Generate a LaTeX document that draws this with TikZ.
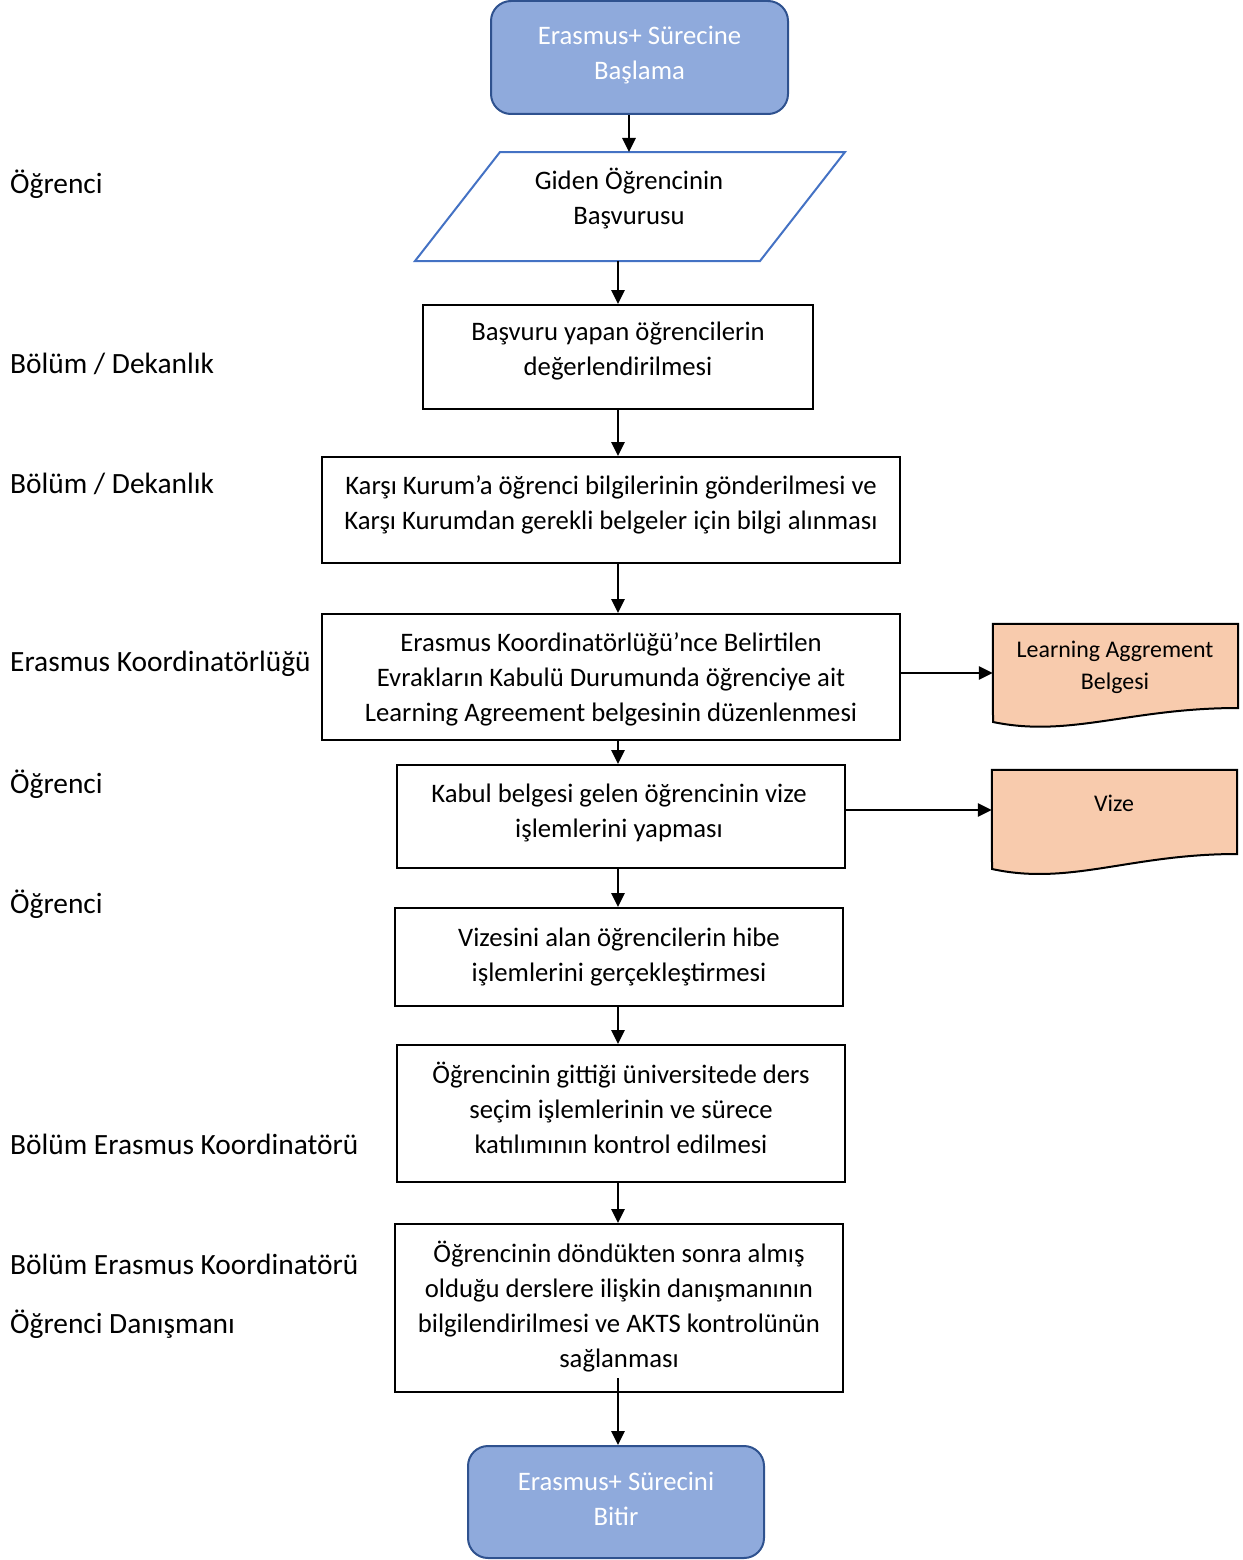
\documentclass[tikz,border=0pt]{standalone}
\usepackage{fontspec}
\setmainfont{Carlito}
\usetikzlibrary{arrows.meta,shapes.geometric}
\definecolor{startfill}{HTML}{8FAADC}
\definecolor{startdraw}{HTML}{2F528F}
\definecolor{paradraw}{HTML}{4472C4}
\definecolor{docfill}{HTML}{F8CBAD}
\tikzset{
  txt/.style={font=\fontsize{26.7}{35}\selectfont, align=center},
  procbox/.style={draw=black, line width=2pt, inner sep=0pt},
  termbox/.style={draw=startdraw, fill=startfill, line width=2pt, rounded corners=20pt, inner sep=0pt},
  lane/.style={font=\fontsize{29.4}{30}\selectfont, anchor=west, inner sep=0pt},
  flow/.style={line width=2.7pt, -{Triangle[length=14pt,width=13pt]}},
  docshape/.style={draw=black, fill=docfill, line width=2pt},
  doctxt/.style={txt, font=\fontsize{23.9}{32}\selectfont, inner sep=0pt},
}
\begin{document}
\begin{tikzpicture}[x=1pt,y=-1pt]
\useasboundingbox (0,0) rectangle (1242,1560);

% lane labels
\node[lane] (l1) at (10,184) {Öğrenci};
\node[lane] (l2) at (10,364) {Bölüm / Dekanlık};
\node[lane] (l3) at (10,484) {Bölüm / Dekanlık};
\node[lane] (l4) at (10,664) {Erasmus Koordinatörlüğü};
\node[lane] (l5) at (10,784) {Öğrenci};
\node[lane] (l6) at (10,904) {Öğrenci};
\node[lane] (l7) at (10,1144) {Bölüm Erasmus Koordinatörü};
\node[lane] (l8) at (10,1264) {Bölüm Erasmus Koordinatörü};
\node[lane] (l9) at (10,1324) {Öğrenci Danışmanı};

% start
\node[termbox, minimum width=297pt, minimum height=113pt] (start) at (639.5,57.5) {};
\node[txt, text=white, inner sep=0pt] (startt) at (639.5,55) {Erasmus+ Sürecine\\Başlama};

% parallelogram
\coordinate (pA) at (415,261);
\coordinate (pB) at (500,152);
\coordinate (pC) at (845,152);
\coordinate (pD) at (760,261);
\draw[draw=paradraw, fill=white, line width=2pt] (pA) -- (pB) -- (pC) -- (pD) -- cycle;
\node[txt, inner sep=0pt] (para) at (629,198.5) {Giden Öğrencinin\\Başvurusu};
\coordinate (paratop) at (629,152);
\coordinate (parabot) at (618,261);

% process boxes
\node[procbox, minimum width=390pt, minimum height=104pt] (b2) at (618,357) {};
\node[txt, inner sep=0pt] (b2t) at (618,351) {Başvuru yapan öğrencilerin\\değerlendirilmesi};
\node[procbox, minimum width=578pt, minimum height=106pt] (b3) at (611,510) {};
\node[txt, inner sep=0pt] (b3t) at (611,505) {Karşı Kurum’a öğrenci bilgilerinin gönderilmesi ve\\Karşı Kurumdan gerekli belgeler için bilgi alınması};
\node[procbox, minimum width=578pt, minimum height=126pt] (b4) at (611,677) {};
\node[txt, inner sep=0pt] (b4t) at (611,679) {Erasmus Koordinatörlüğü’nce Belirtilen\\Evrakların Kabulü Durumunda öğrenciye ait\\Learning Agreement belgesinin düzenlenmesi};
\node[procbox, minimum width=448pt, minimum height=103pt] (b5) at (621,816.5) {};
\node[txt, inner sep=0pt] (b5t) at (619,812.5) {Kabul belgesi gelen öğrencinin vize\\işlemlerini yapması};
\node[procbox, minimum width=448pt, minimum height=98pt] (b6) at (619,957) {};
\node[txt, inner sep=0pt] (b6t) at (619,957) {Vizesini alan öğrencilerin hibe\\işlemlerini gerçekleştirmesi};
\node[procbox, minimum width=448pt, minimum height=137pt] (b7) at (621,1113.5) {};
\node[txt, inner sep=0pt] (b7t) at (621,1107.5) {Öğrencinin gittiği üniversitede ders\\seçim işlemlerinin ve sürece\\katılımının kontrol edilmesi};
\node[procbox, minimum width=448pt, minimum height=168pt] (b8) at (619,1308) {};
\node[txt, inner sep=0pt] (b8t) at (619,1307) {Öğrencinin döndükten sonra almış\\olduğu derslere ilişkin danışmanının\\bilgilendirilmesi ve AKTS kontrolünün\\sağlanması};
\coordinate (b8out) at (618,1378);

% end
\node[termbox, minimum width=296pt, minimum height=112pt] (end) at (616,1502) {};
\node[txt, text=white, inner sep=0pt] (endt) at (616,1499) {Erasmus+ Sürecini\\Bitir};

% documents
\node[minimum width=245pt, minimum height=98pt, inner sep=0pt] (doc1) at (1115.5,673) {};
\draw[docshape] (doc1.north west) -- (doc1.north east) -- (1238,708)
  .. controls (1130,708) and (1070,738) .. (993,722) -- cycle;
\node[doctxt] (doc1t) at (1115,667) {Learning Aggrement\\Belgesi};

\node[minimum width=245pt, minimum height=100pt, inner sep=0pt] (doc2) at (1114.5,820) {};
\draw[docshape] (doc2.north west) -- (doc2.north east) -- (1237,854)
  .. controls (1130,854) and (1070,886) .. (992,869) -- cycle;
\node[doctxt] (doc2t) at (1114,803) {Vize};

% connectors
\draw[flow] (start.south -| paratop) -- (paratop);
\draw[flow] (parabot) -- (b2.north -| parabot);
\draw[flow] (b2.south -| parabot) -- (b3.north -| parabot);
\draw[flow] (b3.south -| parabot) -- (b4.north -| parabot);
\draw[flow] (b4.south -| parabot) -- (b5.north -| parabot);
\draw[flow] (b5.south -| parabot) -- (b6.north -| parabot);
\draw[flow] (b6.south -| parabot) -- (b7.north -| parabot);
\draw[flow] (b7.south -| parabot) -- (b8.north -| parabot);
\draw[flow] (b8out) -- (end.north -| b8out);
\draw[flow] (b4.east |- doc1.west) -- (doc1.west);
\draw[flow] (b5.east |- 0,810) -- (doc2.west |- 0,810);
\end{tikzpicture}
\end{document}
